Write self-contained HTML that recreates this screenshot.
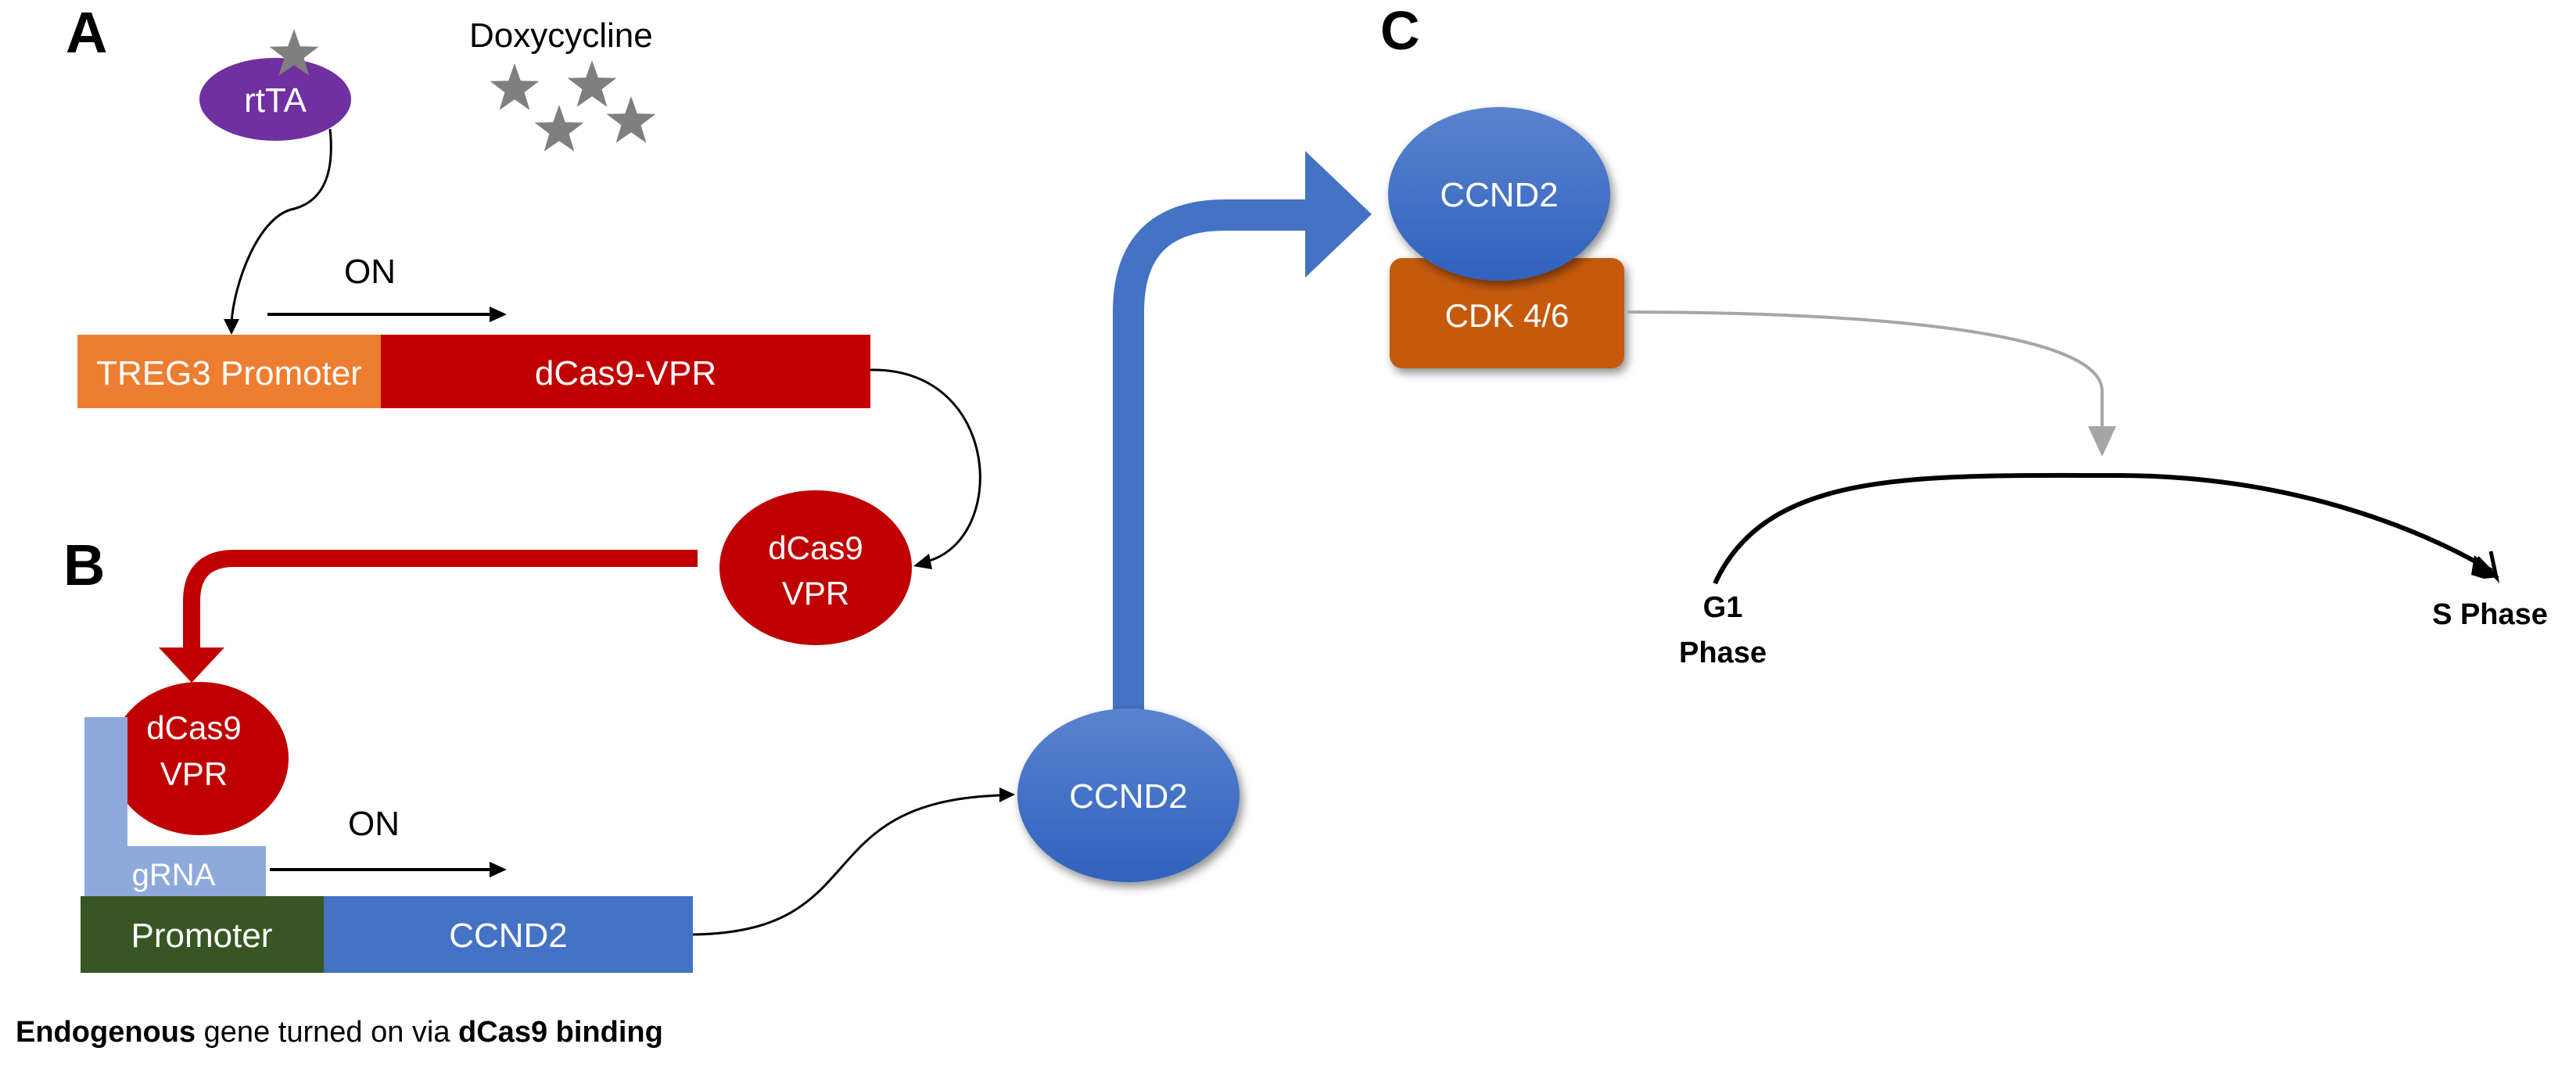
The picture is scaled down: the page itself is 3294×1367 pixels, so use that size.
<!DOCTYPE html>
<html><head><meta charset="utf-8"><style>
html,body{margin:0;padding:0;background:#fff;}
svg{display:block;}
text{font-family:"Liberation Sans",Arial,sans-serif;}
</style></head><body>
<svg width="3294" height="1367" viewBox="0 0 3294 1367" xmlns="http://www.w3.org/2000/svg">
<defs>
<marker id="ab" markerWidth="10" markerHeight="10" refX="9" refY="5" orient="auto" markerUnits="userSpaceOnUse" viewBox="0 0 10 10">
</marker>
<linearGradient id="bg" x1="0" y1="0" x2="0" y2="1">
<stop offset="0" stop-color="#5a83cf"/><stop offset="1" stop-color="#2f62bd"/>
</linearGradient>
<filter id="sh" x="-20%" y="-20%" width="150%" height="150%">
<feGaussianBlur in="SourceAlpha" stdDeviation="6"/><feOffset dx="4" dy="6"/>
<feComponentTransfer><feFuncA type="linear" slope="0.45"/></feComponentTransfer>
<feMerge><feMergeNode/><feMergeNode in="SourceGraphic"/></feMerge>
</filter>
<path id="star" d="M0,-33 L7.8,-10.7 L31.4,-10.2 L12.6,4.1 L19.4,26.7 L0,13.2 L-19.4,26.7 L-12.6,4.1 L-31.4,-10.2 L-7.8,-10.7 Z"/>
</defs>

<!-- Labels -->
<text x="84" y="67" font-size="74" font-weight="bold">A</text>
<text x="81" y="748" font-size="74" font-weight="bold">B</text>
<text x="1765" y="63" font-size="70" font-weight="bold">C</text>

<!-- rtTA -->
<ellipse cx="352" cy="127" rx="97" ry="53" fill="#7030a0"/>
<text x="352" y="143" font-size="44" fill="#fff" text-anchor="middle">rtTA</text>
<use href="#star" x="376" y="70" fill="#7f7f7f"/>
<text x="600" y="60" font-size="44">Doxycycline</text>
<use href="#star" x="658" y="114" fill="#7f7f7f"/>
<use href="#star" x="757" y="110" fill="#7f7f7f"/>
<use href="#star" x="715" y="167" fill="#7f7f7f"/>
<use href="#star" x="807" y="156" fill="#7f7f7f"/>

<!-- rtTA curve -->
<path d="M422,165 C430,240 400,262 372,268 C330,280 300,360 296,412" fill="none" stroke="#000" stroke-width="3"/>
<polygon points="286,408 306,408 296,428" fill="#000"/>

<!-- ON A -->
<text x="440" y="362" font-size="44">ON</text>
<line x1="342" y1="402" x2="630" y2="402" stroke="#000" stroke-width="4"/>
<polygon points="626,392 648,402 626,412" fill="#000"/>

<!-- A bar -->
<rect x="99" y="428" width="388" height="94" fill="#ed7d31"/>
<rect x="487" y="428" width="626" height="94" fill="#c00000"/>
<text x="293" y="492" font-size="44" fill="#fff" text-anchor="middle">TREG3 Promoter</text>
<text x="800" y="492" font-size="44" fill="#fff" text-anchor="middle">dCas9-VPR</text>

<!-- curve bar to dCas9 -->
<path d="M1113,473 C1280,470 1290,690 1185,718" fill="none" stroke="#000" stroke-width="3"/>
<polygon points="1168,724 1188,708 1192,728" fill="#000"/>

<!-- right dCas9 -->
<ellipse cx="1043" cy="726" rx="123" ry="99" fill="#c00000"/>
<text x="1043" y="715" font-size="42" fill="#fff" text-anchor="middle">dCas9</text>
<text x="1043" y="773" font-size="42" fill="#fff" text-anchor="middle">VPR</text>

<!-- red thick arrow -->
<path d="M892,714 L300,714 Q245,714 245,769 L245,832" fill="none" stroke="#c00000" stroke-width="22"/>
<polygon points="203,828 287,828 245,873" fill="#c00000"/>

<!-- gRNA L -->
<path d="M108,917 L163,917 L163,1082 L340,1082 L340,1146 L108,1146 Z" fill="#8eaadb"/>
<!-- left dCas9 -->
<path d="M163,917" />
<ellipse cx="255" cy="970" rx="114" ry="98" fill="#c00000"/>
<rect x="108" y="917" width="55" height="165" fill="#8eaadb"/>
<text x="248" y="945" font-size="42" fill="#fff" text-anchor="middle">dCas9</text>
<text x="248" y="1004" font-size="42" fill="#fff" text-anchor="middle">VPR</text>
<text x="222" y="1132" font-size="40" fill="#fff" text-anchor="middle">gRNA</text>

<!-- ON B -->
<text x="445" y="1068" font-size="44">ON</text>
<line x1="345" y1="1112" x2="630" y2="1112" stroke="#000" stroke-width="4"/>
<polygon points="626,1102 648,1112 626,1122" fill="#000"/>

<!-- B bar -->
<rect x="103" y="1146" width="311" height="98" fill="#375623"/>
<rect x="414" y="1146" width="472" height="98" fill="#4472c4"/>
<text x="258" y="1211" font-size="44" fill="#fff" text-anchor="middle">Promoter</text>
<text x="650" y="1211" font-size="44" fill="#fff" text-anchor="middle">CCND2</text>

<text x="20" y="1332" font-size="38"><tspan font-weight="bold">Endogenous</tspan> gene turned on via <tspan font-weight="bold">dCas9 binding</tspan></text>

<!-- curve to CCND2 -->
<path d="M886,1195 C1120,1192 1030,1025 1280,1017" fill="none" stroke="#000" stroke-width="3"/>
<polygon points="1278,1007 1298,1016 1278,1026" fill="#000"/>

<!-- blue bent arrow -->
<path d="M1443,920 L1443,399 Q1443,275 1567,275 L1672,275" fill="none" stroke="#4472c4" stroke-width="40"/>
<polygon points="1669,193 1754,274 1669,355" fill="#4472c4"/>

<!-- CCND2 lower ellipse -->
<ellipse cx="1443" cy="1017" rx="142" ry="111" fill="url(#bg)" filter="url(#sh)"/>
<text x="1443" y="1033" font-size="44" fill="#fff" text-anchor="middle">CCND2</text>

<!-- CDK box -->
<rect x="1777" y="330" width="300" height="141" rx="16" fill="#c55a11" filter="url(#sh)"/>
<text x="1927" y="418" font-size="42" fill="#fff" text-anchor="middle">CDK 4/6</text>
<ellipse cx="1917" cy="248" rx="142" ry="111" fill="url(#bg)" filter="url(#sh)"/>
<text x="1917" y="264" font-size="44" fill="#fff" text-anchor="middle">CCND2</text>

<!-- gray arrow -->
<path d="M2081,399 C2500,400 2688,440 2688,500 L2688,548" fill="none" stroke="#a6a6a6" stroke-width="4"/>
<polygon points="2670,545 2706,545 2688,584" fill="#a6a6a6"/>

<!-- black arc -->
<path d="M2193,746 C2260,600 2450,608 2707,608 C2950,608 3120,690 3186,730" fill="none" stroke="#000" stroke-width="6"/>
<polygon points="3164,710 3196,738 3176,740 3160,735" fill="#000"/>
<path d="M3168,713 L3192,738 L3185,705" fill="none" stroke="#000" stroke-width="5"/>

<text x="2203" y="789" font-size="38" font-weight="bold" text-anchor="middle">G1</text>
<text x="2203" y="847" font-size="38" font-weight="bold" text-anchor="middle">Phase</text>
<text x="3184" y="798" font-size="38" font-weight="bold" text-anchor="middle">S Phase</text>
</svg>
</body></html>
